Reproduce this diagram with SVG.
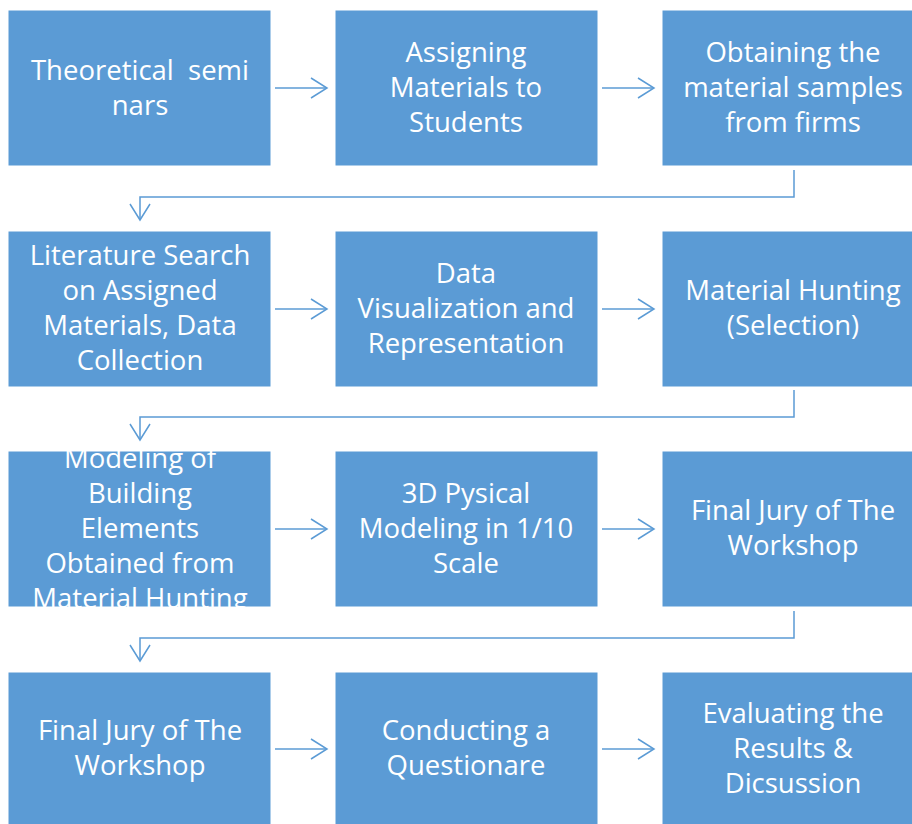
<svg xmlns="http://www.w3.org/2000/svg" width="912" height="824" viewBox="0 0 912 824">
<style>
.box{fill:#5B9BD5;stroke:#FFFFFF;stroke-width:1}
.t{font-family:"Open Sans","Liberation Sans",sans-serif;font-size:27.5px;fill:#FFFFFF;text-anchor:middle}
.c{fill:none;stroke:#5B9BD5;stroke-width:1.5}
</style>
<defs>
<marker id="ah" markerUnits="userSpaceOnUse" markerWidth="20" markerHeight="24" refX="17" refY="11" orient="auto" viewBox="0 0 20 22">
<polyline points="1,1 17,11 1,21" fill="none" stroke="#5B9BD5" stroke-width="1.5"/>
</marker>
</defs>
<rect width="912" height="824" fill="#FFFFFF"/>
<g id="connectors">
<line class="c" x1="275" y1="88" x2="327" y2="88" marker-end="url(#ah)"/>
<line class="c" x1="602" y1="88" x2="654" y2="88" marker-end="url(#ah)"/>
<path class="c" d="M794,170 V197 H140 V220" marker-end="url(#ah)"/>
<line class="c" x1="275" y1="309" x2="327" y2="309" marker-end="url(#ah)"/>
<line class="c" x1="602" y1="309" x2="654" y2="309" marker-end="url(#ah)"/>
<path class="c" d="M794,390 V417 H140 V440" marker-end="url(#ah)"/>
<line class="c" x1="275" y1="529" x2="327" y2="529" marker-end="url(#ah)"/>
<line class="c" x1="602" y1="529" x2="654" y2="529" marker-end="url(#ah)"/>
<path class="c" d="M794,611 V638 H140 V661" marker-end="url(#ah)"/>
<line class="c" x1="275" y1="749" x2="327" y2="749" marker-end="url(#ah)"/>
<line class="c" x1="602" y1="749" x2="654" y2="749" marker-end="url(#ah)"/>
</g>
<g id="n1"><rect class="box" x="8" y="10" width="263" height="156"/>
<text class="t" x="140" y="80" xml:space="preserve">Theoretical  semi</text><text class="t" x="140" y="115">nars</text></g>
<g id="n2"><rect class="box" x="335" y="10" width="263" height="156"/>
<text class="t" x="466" y="62">Assigning</text><text class="t" x="466" y="97">Materials to</text><text class="t" x="466" y="132">Students</text></g>
<g id="n3"><rect class="box" x="662" y="10" width="263" height="156"/>
<text class="t" x="793" y="62">Obtaining the</text><text class="t" x="793" y="97">material samples</text><text class="t" x="793" y="132">from firms</text></g>
<g id="n4"><rect class="box" x="8" y="231" width="263" height="156"/>
<text class="t" x="140" y="265">Literature Search</text><text class="t" x="140" y="300">on Assigned</text><text class="t" x="140" y="335">Materials, Data</text><text class="t" x="140" y="370">Collection</text></g>
<g id="n5"><rect class="box" x="335" y="231" width="263" height="156"/>
<text class="t" x="466" y="283">Data</text><text class="t" x="466" y="318">Visualization and</text><text class="t" x="466" y="353">Representation</text></g>
<g id="n6"><rect class="box" x="662" y="231" width="263" height="156"/>
<text class="t" x="793" y="300">Material Hunting</text><text class="t" x="793" y="335">(Selection)</text></g>
<g id="n7"><rect class="box" x="8" y="451" width="263" height="156"/>
<text class="t" x="140" y="468">Modeling of</text><text class="t" x="140" y="503">Building</text><text class="t" x="140" y="538">Elements</text><text class="t" x="140" y="573">Obtained from</text><text class="t" x="140" y="608">Material Hunting</text></g>
<g id="n8"><rect class="box" x="335" y="451" width="263" height="156"/>
<text class="t" x="466" y="503">3D Pysical</text><text class="t" x="466" y="538">Modeling in 1/10</text><text class="t" x="466" y="573">Scale</text></g>
<g id="n9"><rect class="box" x="662" y="451" width="263" height="156"/>
<text class="t" x="793" y="520">Final Jury of The</text><text class="t" x="793" y="555">Workshop</text></g>
<g id="n10"><rect class="box" x="8" y="672" width="263" height="156"/>
<text class="t" x="140" y="740">Final Jury of The</text><text class="t" x="140" y="775">Workshop</text></g>
<g id="n11"><rect class="box" x="335" y="672" width="263" height="156"/>
<text class="t" x="466" y="740">Conducting a</text><text class="t" x="466" y="775">Questionare</text></g>
<g id="n12"><rect class="box" x="662" y="672" width="263" height="156"/>
<text class="t" x="793" y="723">Evaluating the</text><text class="t" x="793" y="758">Results &amp;</text><text class="t" x="793" y="793">Dicsussion</text></g>
</svg>
